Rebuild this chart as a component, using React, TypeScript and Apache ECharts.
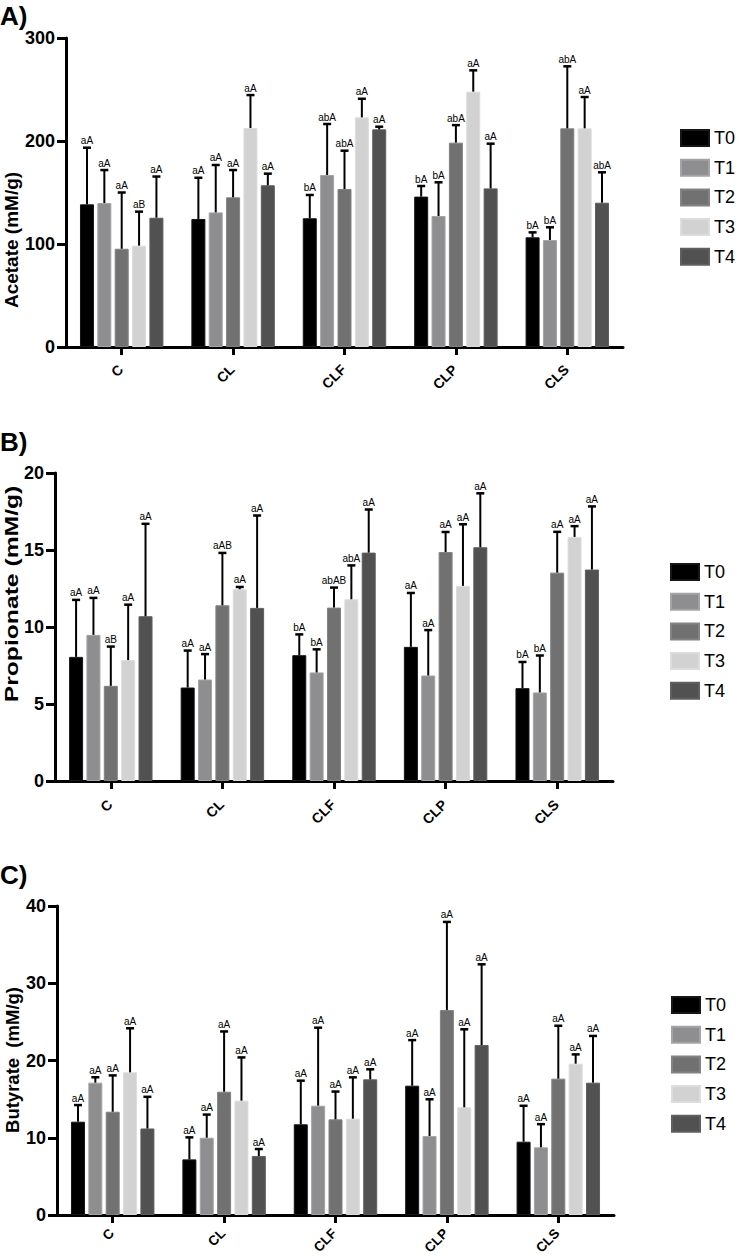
import React, { useEffect, useRef } from "react";
import * as echarts from "echarts";

const CATS = ["C", "CL", "CLF", "CLP", "CLS"];
const TREATS = ["T0", "T1", "T2", "T3", "T4"];
const COLORS = ["#000000", "#8e8e91", "#717171", "#d2d2d2", "#515151"];
const BORDERS = ["#161616", "#a4a4a6", "#838383", "#dddddd", "#5f5f5f"];

// Acetate (mM/g): rows = T0..T4, columns = C, CL, CLF, CLP, CLS
const ACE_MEAN = [
  [138.5, 124.3, 125, 146, 106.5],
  [139.8, 130.7, 167, 127.2, 103.9],
  [95.4, 145.3, 153.4, 198.4, 212.3],
  [98.4, 212.6, 223, 247.9, 212.3],
  [125.5, 157, 211.3, 154, 140.1],
];
const ACE_SD = [
  [55, 40, 22.6, 10.3, 4.8],
  [32, 46, 49.5, 32.7, 12.3],
  [54.6, 26.5, 37.2, 17, 60.2],
  [33, 32, 18, 20.7, 30.4],
  [40, 11.3, 2.6, 43.4, 29.5],
];
const ACE_LBL = [
  ["aA", "aA", "bA", "bA", "bA"],
  ["aA", "aA", "abA", "bA", "bA"],
  ["aA", "aA", "abA", "abA", "abA"],
  ["aB", "aA", "aA", "aA", "aA"],
  ["aA", "aA", "aA", "aA", "abA"],
];

// Propionate (mM/g)
const PRO_MEAN = [
  [8.06, 6.07, 8.17, 8.71, 6.03],
  [9.49, 6.59, 7.05, 6.85, 5.75],
  [6.18, 11.41, 11.26, 14.87, 13.53],
  [7.85, 12.45, 11.8, 12.67, 15.85],
  [10.7, 11.24, 14.83, 15.18, 13.73],
];
const PRO_SD = [
  [3.7, 2.4, 1.35, 3.5, 1.7],
  [2.4, 1.65, 1.5, 2.95, 2.4],
  [2.55, 3.4, 1.3, 1.3, 2.65],
  [3.6, 0.15, 2.2, 4.0, 0.7],
  [6.0, 6.0, 2.8, 3.5, 4.1],
];
const PRO_LBL = [
  ["aA", "aA", "bA", "aA", "bA"],
  ["aA", "aA", "bA", "aA", "bA"],
  ["aB", "aAB", "abAB", "aA", "aA"],
  ["aA", "aA", "abA", "aA", "aA"],
  ["aA", "aA", "aA", "aA", "aA"],
];

// Butyrate (mM/g)
const BUT_MEAN = [
  [12.08, 7.2, 11.74, 16.74, 9.49],
  [17.13, 10.0, 14.15, 10.23, 8.76],
  [13.37, 15.96, 12.38, 26.54, 17.65],
  [18.47, 14.8, 12.47, 13.94, 19.59],
  [11.2, 7.64, 17.56, 22.0, 17.13],
];
const BUT_SD = [
  [2.15, 2.85, 5.65, 5.9, 4.65],
  [0.7, 3.0, 10.1, 4.75, 3.0],
  [4.7, 7.8, 3.6, 11.4, 6.85],
  [5.7, 5.6, 5.35, 10.1, 1.2],
  [4.1, 0.9, 1.3, 10.45, 6.05],
];
const BUT_LBL = [
  ["aA", "aA", "aA", "aA", "aA"],
  ["aA", "aA", "aA", "aA", "aA"],
  ["aA", "aA", "aA", "aA", "aA"],
  ["aA", "aA", "aA", "aA", "aA"],
  ["aA", "aA", "aA", "aA", "aA"],
];

const Y_MAX = [300, 20, 40];
const Y_INTERVAL = [100, 5, 10];
const PANEL_LETTERS = ["A)", "B)", "C)"];
const Y_TITLES = ["Acetate (mM/g)", "Propionate (mM/g)", "Butyrate  (mM/g)"];

const FONT = "Liberation Sans, Arial, Helvetica, sans-serif";
const BAR_W = 14;
const BAR_GAP = 0.24;
const PITCH = BAR_W * (1 + BAR_GAP);

const LAYOUT = [
  { grid: { left: 66, top: 38, width: 557, height: 309 }, legend: { left: 675, top: 124 }, title: { x: 11, y: 240, size: 19, sx: 1 }, letterY: 3, catDy: 20, catSize: 14 },
  { grid: { left: 55, top: 473, width: 558, height: 308 }, legend: { left: 665, top: 558 }, title: { x: 12, y: 594, size: 19, sx: 1.3 }, letterY: 429, catDy: 21, catSize: 14 },
  { grid: { left: 57, top: 906, width: 557, height: 309 }, legend: { left: 666, top: 991 }, title: { x: 12, y: 1060, size: 18.5, sx: 1 }, letterY: 862, catDy: 16, catSize: 13.5 },
];

export default function App() {
  const ref = useRef<HTMLDivElement>(null);
  useEffect(() => {
    document.body.style.margin = "0";
    if (!ref.current) return;
    const chart = echarts.init(ref.current, null, { renderer: "svg" });
    const panels = [
      { mean: ACE_MEAN, sd: ACE_SD, lbl: ACE_LBL },
      { mean: PRO_MEAN, sd: PRO_SD, lbl: PRO_LBL },
      { mean: BUT_MEAN, sd: BUT_SD, lbl: BUT_LBL },
    ];
    const grid: any[] = [];
    const xAxis: any[] = [];
    const yAxis: any[] = [];
    const legend: any[] = [];
    const series: any[] = [];
    const graphic: any[] = [];

    panels.forEach((p, pi) => {
      const L = LAYOUT[pi];
      grid.push({ ...L.grid, containLabel: false, outerBoundsMode: "none" });
      xAxis.push({
        type: "category",
        gridIndex: pi,
        data: CATS,
        axisLine: { show: true, lineStyle: { color: "#000", width: 3 } },
        axisTick: { show: true, alignWithLabel: true, length: 8, lineStyle: { color: "#000", width: 3 } },
        axisLabel: { show: false },
        splitLine: { show: false },
      });
      yAxis.push({
        type: "value",
        gridIndex: pi,
        min: 0,
        max: Y_MAX[pi],
        interval: Y_INTERVAL[pi],
        axisLine: { show: true, lineStyle: { color: "#000", width: 3 } },
        axisTick: { show: true, length: 9, lineStyle: { color: "#000", width: 3 } },
        axisLabel: { margin: 11, color: "#000", fontWeight: "bold", fontSize: 18, fontFamily: FONT },
        splitLine: { show: false },
      });
      legend.push({
        data: TREATS,
        orient: "vertical",
        left: L.legend.left,
        top: L.legend.top,
        itemWidth: 28,
        itemHeight: 16,
        itemGap: 11.7,
        icon: "rect",
        selectedMode: false,
        textStyle: { fontSize: 18, color: "#000", fontFamily: FONT, lineHeight: 16 },
      });
      TREATS.forEach((t, ti) => {
        series.push({
          type: "bar",
          name: t,
          xAxisIndex: pi,
          yAxisIndex: pi,
          barWidth: BAR_W,
          barGap: BAR_GAP * 100 + "%",
          data: p.mean[ti],
          itemStyle: { color: COLORS[ti], borderColor: BORDERS[ti], borderWidth: 1 },
          emphasis: { disabled: true },
          z: 2,
        });
      });
      const errData: number[][] = [];
      const labels: string[] = [];
      TREATS.forEach((_, ti) => {
        CATS.forEach((_, ci) => {
          errData.push([ci, p.mean[ti][ci], p.mean[ti][ci] + p.sd[ti][ci], ti]);
          labels.push(p.lbl[ti][ci]);
        });
      });
      series.push({
        type: "custom",
        name: "err" + pi,
        xAxisIndex: pi,
        yAxisIndex: pi,
        data: errData,
        encode: { x: 0, y: [1, 2] },
        z: 5,
        silent: true,
        renderItem: (params: any, api: any) => {
          const c = api.value(0);
          const mean = api.value(1);
          const top = api.value(2);
          const t = api.value(3);
          const p0 = api.coord([c, mean]);
          const p1 = api.coord([c, top]);
          const x = p0[0] + (t - 2) * PITCH;
          return {
            type: "group",
            children: [
              { type: "line", shape: { x1: x, y1: p0[1], x2: x, y2: p1[1] }, style: { stroke: "#000", lineWidth: 2 } },
              { type: "line", shape: { x1: x - 4, y1: p1[1], x2: x + 4, y2: p1[1] }, style: { stroke: "#000", lineWidth: 2.5 } },
              {
                type: "text",
                x: x,
                y: p1[1] - 2,
                style: { text: labels[params.dataIndex], fontSize: 10, fill: "#000", align: "center", verticalAlign: "bottom", fontFamily: FONT },
              },
            ],
          };
        },
      });
      // rotated category labels, placed through the category axis scale
      series.push({
        type: "custom",
        name: "cat" + pi,
        xAxisIndex: pi,
        yAxisIndex: pi,
        data: CATS.map((_, ci) => [ci, 0]),
        encode: { x: 0, y: 1 },
        z: 6,
        silent: true,
        clip: false,
        renderItem: (params: any, api: any) => {
          const c = api.value(0);
          const pt = api.coord([c, 0]);
          return {
            type: "text",
            x: pt[0] - 1,
            y: pt[1] + L.catDy,
            rotation: Math.PI / 4,
            style: { text: CATS[params.dataIndex], fontSize: L.catSize, fontWeight: "bold", fill: "#000", align: "right", verticalAlign: "middle", fontFamily: FONT },
          };
        },
      });
      graphic.push({
        type: "text",
        left: 0,
        top: L.letterY,
        style: { text: PANEL_LETTERS[pi], fontSize: 26, fontWeight: "bold", fill: "#000", fontFamily: FONT },
      });
      graphic.push({
        type: "text",
        x: L.title.x,
        y: L.title.y,
        rotation: Math.PI / 2,
        scaleX: L.title.sx,
        style: { text: Y_TITLES[pi], fontSize: L.title.size, fontWeight: "bold", fill: "#000", align: "center", verticalAlign: "middle", fontFamily: FONT },
      });
    });

    chart.setOption({
      animation: false,
      backgroundColor: "#fff",
      grid,
      xAxis,
      yAxis,
      legend,
      series,
      graphic,
    });
    return () => chart.dispose();
  }, []);
  return <div ref={ref} style={{ width: 737, height: 1258 }} />;
}
